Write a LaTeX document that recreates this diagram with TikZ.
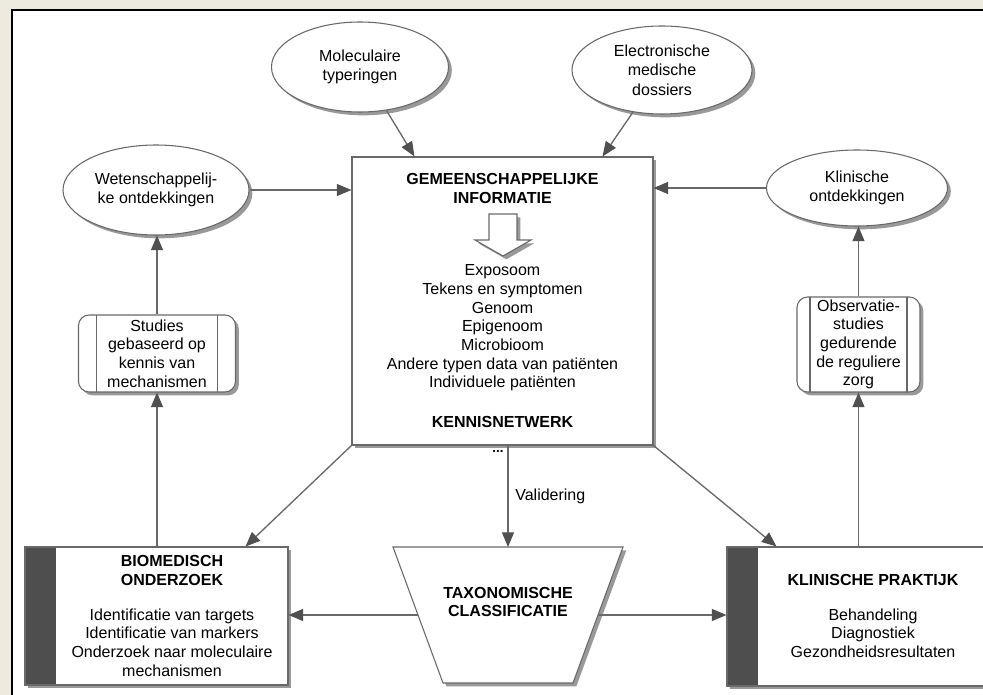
\documentclass[tikz,border=0pt]{standalone}
\usepackage{fontspec}
\setmainfont{Liberation Sans}
\usetikzlibrary{shapes.geometric, shadows, arrows.meta, calc, positioning}
\definecolor{bgbeige}{RGB}{237,234,224}
\definecolor{linegray}{RGB}{105,105,105}
\definecolor{tipgray}{RGB}{80,80,80}
\definecolor{bardark}{RGB}{78,78,78}
\newcommand\dgmfont{\fontsize{12}{14}\selectfont}

\tikzset{
  shade/.style={drop shadow={shadow xshift=2.5pt, shadow yshift=-2.5pt, fill=black!40, opacity=1}},
  bubble/.style={ellipse, draw=linegray, line width=0.8pt, fill=white, shade, align=center, inner sep=0pt, font=\fontsize{12}{14.5}\selectfont},
  panelbox/.style={rectangle, draw=linegray, line width=0.8pt, fill=white, shade, inner sep=0pt},
  procbox/.style={rectangle, rounded corners=8pt, draw=linegray, line width=0.8pt, fill=white, shade, align=center, inner sep=0pt, font=\dgmfont,
    path picture={\draw[linegray, line width=0.8pt]
      ([xshift=#1]path picture bounding box.north west) -- ([xshift=#1]path picture bounding box.south west)
      ([xshift=-#1]path picture bounding box.north east) -- ([xshift=-#1]path picture bounding box.south east);}},
  procbox/.default=13pt,
  darkbar/.style={path picture={\fill[bardark] (path picture bounding box.north west) rectangle ([xshift=23.5pt]path picture bounding box.south west);}},
  txt/.style={align=center, inner sep=0pt, font=\dgmfont},
  flow/.style={draw=linegray, line width=1pt, -{Triangle[length=11pt, width=9pt, color=tipgray]}},
}

\begin{document}
\begin{tikzpicture}[x=0.75pt,y=-0.75pt]
  \useasboundingbox (0,0) rectangle (983,695);
  \clip (0,0) rectangle (983,695);
  % background and panel
  \fill[bgbeige] (0,0) rectangle (983,695);
  \draw[black, line width=1.5pt, fill=white] (12,10) rectangle (1000,720);

  % sources on top
  \node[bubble, minimum width=132.75pt, minimum height=67.5pt] (mol) at (360,67) {Moleculaire\\typeringen};
  \node[bubble, minimum width=135pt, minimum height=66pt] (elec) at (662,70) {Electronische\\medische\\dossiers};
  \node[bubble, minimum width=139.5pt, minimum height=67.5pt] (wet) at (156,190) {Wetenschappelij-\\ke ontdekkingen};
  \node[bubble, minimum width=135.75pt, minimum height=57pt] (klin) at (857,188) {Klinische\\ontdekkingen};

  % central knowledge box
  \node[panelbox, minimum width=225.75pt, minimum height=216pt] (info) at (502.5,301) {};
  \node[txt, font=\fontsize{12}{14.25}\selectfont\bfseries] (infotitle) at (502.5,188.5) {GEMEENSCHAPPELIJKE\\INFORMATIE};
  \filldraw[draw=linegray, fill=white, line width=0.8pt, shade]
    (489,214) -- (517,214) -- (517,240) -- (531,240) -- (503,256) -- (475,240) -- (489,240) -- cycle;
  \node[txt] (infodata) at (502.5,328) {Exposoom\\Tekens en symptomen\\Genoom\\Epigenoom\\Microbioom\\Andere typen data van pati\"enten\\Individuele pati\"enten};
  \node[txt, font=\dgmfont\bfseries] (infonet) at (502.5,422) {KENNISNETWERK};
  \node[txt, font=\fontsize{10}{12}\selectfont\bfseries, anchor=south] (dots) at (498,453) {...};

  % studies
  \node[procbox=13.5pt, minimum width=117.75pt, minimum height=57.75pt] (studies) at (157,353.5) {Studies\\gebaseerd op\\kennis van\\mechanismen};
  \node[procbox=9.75pt, minimum width=92.25pt, minimum height=71.25pt] (obs) at (858.5,344.5) {Observatie-\\studies\\gedurende\\de reguliere\\zorg};

  % bottom row
  \node[panelbox, darkbar, minimum width=197.25pt, minimum height=103.5pt] (bio) at (156.5,616) {};
  \node[txt] (biotext) at (172,616) {\textbf{BIOMEDISCH}\\\textbf{ONDERZOEK}\\[12pt]Identificatie van targets\\Identificatie van markers\\Onderzoek naar moleculaire\\mechanismen};
  \node[panelbox, darkbar, minimum width=197.25pt, minimum height=104.25pt] (klinp) at (858.5,616.5) {};
  \node[txt] (klinptext) at (873,616) {\textbf{KLINISCHE PRAKTIJK}\\[12pt]Behandeling\\Diagnostiek\\Gezondheidsresultaten};
  % taxonomy trapezoid
  \draw[draw=linegray, line width=0.8pt, fill=white, shade] (393,547) -- (623,547) -- (573,683) -- (443,683) -- cycle;
  \coordinate (taxn) at (508,547);
  \coordinate (taxw) at (418,615);
  \coordinate (taxe) at (598,615);
  \node[txt, font=\fontsize{12}{14}\selectfont\bfseries] (taxtext) at (508,602) {TAXONOMISCHE\\CLASSIFICATIE};

  % connectors
  \draw[flow] (mol) -- ($(info.north west)+(63,0)$);
  \draw[flow] (elec) -- ($(info.north east)+(-51,0)$);
  \draw[flow] (wet) -- (wet -| info.west);
  \draw[flow] (klin) -- (klin -| info.east);
  \draw[flow] (studies.north) -- (studies.north |- wet.south);
  \draw[flow] (studies.south |- bio.north) -- (studies.south);
  \draw[flow] (obs.north) -- (obs.north |- klin.south);
  \draw[flow] (obs.south |- klinp.north) -- (obs.south);
  \draw[flow] (info.south west) -- ($(bio.north east)+(-43,0)$);
  \draw[flow] (info.south east) -- ($(klinp.north west)+(50,0)$);
  \draw[flow] (taxn |- info.south) -- node[txt, anchor=west, xshift=5pt] (valid) {Validering} (taxn);
  \draw[flow] (taxw) -- (taxw -| bio.east);
  \draw[flow] (taxe) -- (taxe -| klinp.west);
\end{tikzpicture}
\end{document}
